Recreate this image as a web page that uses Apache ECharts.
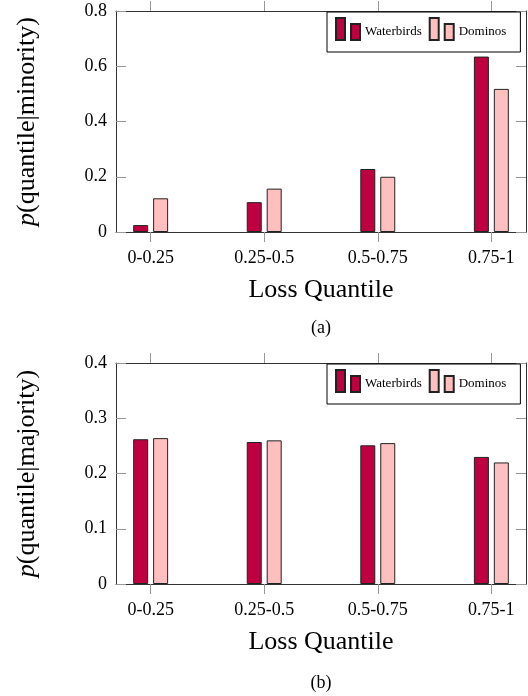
<!DOCTYPE html>
<html>
<head>
<meta charset="utf-8">
<script src="https://cdn.jsdelivr.net/npm/echarts@6/dist/echarts.min.js"></script>
<style>
html,body{margin:0;padding:0;background:#fff;}
#chart{width:528px;height:696px;}
</style>
</head>
<body>
<div id="chart"></div>
<script>
const categories = ['0-0.25', '0.25-0.5', '0.5-0.75', '0.75-1'];
const seriesNames = ['Waterbirds', 'Dominos'];
const minorityWaterbirds = [0.025, 0.108, 0.228, 0.635];
const minorityDominos = [0.122, 0.157, 0.200, 0.518];
const majorityWaterbirds = [0.262, 0.257, 0.251, 0.230];
const majorityDominos = [0.264, 0.260, 0.255, 0.220];

const FONT = '"Liberation Serif", "Times New Roman", serif';
const colors = ['#BF0040', '#FFBFBF'];
const frameColor = '#333';
const tickColor = '#999';
const catIdx = categories.map((c, i) => i);

const chart = echarts.init(document.getElementById('chart'), null, {renderer: 'canvas'});

const grids = [
  {left: 116, top: 11, width: 410, height: 221},
  {left: 116, top: 363, width: 410, height: 221}
];

function xAxes(gi) {
  const common = {
    type: 'value', gridIndex: gi, min: -0.305, max: 3.305,
    splitLine: {show: false},
    axisLine: {show: true, onZero: false, lineStyle: {color: frameColor, width: 1}},
    axisTick: {show: true, inside: false, length: 10, customValues: catIdx, lineStyle: {color: tickColor}}
  };
  return [
    Object.assign({}, common, {
      position: 'bottom',
      axisLabel: {show: true, customValues: catIdx, formatter: v => categories[Math.round(v)],
        margin: 17, fontFamily: FONT, fontSize: 18, color: '#000'},
      name: 'Loss Quantile', nameLocation: 'middle', nameGap: 45,
      nameTextStyle: {fontFamily: FONT, fontSize: 26, color: '#000'}
    }),
    Object.assign({}, common, {position: 'top', axisLabel: {show: false}})
  ];
}

function yAxes(gi, max, interval, title) {
  const common = {
    type: 'value', gridIndex: gi, min: 0, max: max, interval: interval,
    splitLine: {show: false},
    axisLine: {show: true, onZero: false, lineStyle: {color: frameColor, width: 1}},
    axisTick: {show: true, inside: true, length: 10, lineStyle: {color: tickColor}}
  };
  return [
    Object.assign({}, common, {
      position: 'left',
      axisLabel: {show: true, margin: 9, fontFamily: FONT, fontSize: 18, color: '#000'},
      name: '{i|p}{r|(quantile|' + title + ')}', nameLocation: 'middle', nameGap: 76,
      nameTextStyle: {fontFamily: FONT, fontSize: 26, color: '#000',
        rich: {
          i: {fontFamily: FONT, fontSize: 26, fontStyle: 'italic', color: '#000'},
          r: {fontFamily: FONT, fontSize: 26, color: '#000'}
        }}
    }),
    Object.assign({}, common, {position: 'right', axisLabel: {show: false}})
  ];
}

function barSeries(name, values, axisBase, colorIdx) {
  return {
    type: 'bar', name: name,
    xAxisIndex: axisBase, yAxisIndex: axisBase,
    data: values.map((v, i) => [i, v]),
    barWidth: 15, barGap: '33%',
    itemStyle: {color: colors[colorIdx], borderColor: '#222', borderWidth: 1},
    emphasis: {disabled: true}
  };
}

function legend(top) {
  return {
    data: seriesNames,
    left: 327, top: top,
    orient: 'horizontal',
    borderColor: '#000', borderWidth: 1,
    padding: [5, 14, 5, 8],
    itemGap: 7, itemWidth: 24, itemHeight: 28,
    icon: 'path://M0,0h9v22h-9zM15,6h9v16h-9zM0,28',
    textStyle: {fontFamily: FONT, fontSize: 13, color: '#000'},
    selectedMode: false
  };
}

const option = {
  animation: false,
  backgroundColor: '#fff',
  textStyle: {fontFamily: FONT},
  grid: grids,
  xAxis: [...xAxes(0), ...xAxes(1)],
  yAxis: [...yAxes(0, 0.8, 0.2, 'minority'), ...yAxes(1, 0.4, 0.1, 'majority')],
  legend: [legend(12), legend(364)],
  title: [
    {text: '(a)', left: 321, top: 319, textAlign: 'center', padding: 0,
     textStyle: {fontFamily: FONT, fontSize: 18, fontWeight: 'normal', color: '#000'}},
    {text: '(b)', left: 321, top: 674, textAlign: 'center', padding: 0,
     textStyle: {fontFamily: FONT, fontSize: 18, fontWeight: 'normal', color: '#000'}}
  ],
  series: [
    barSeries(seriesNames[0], minorityWaterbirds, 0, 0),
    barSeries(seriesNames[1], minorityDominos, 0, 1),
    barSeries(seriesNames[0], majorityWaterbirds, 2, 0),
    barSeries(seriesNames[1], majorityDominos, 2, 1)
  ]
};
chart.setOption(option);
</script>
</body>
</html>
